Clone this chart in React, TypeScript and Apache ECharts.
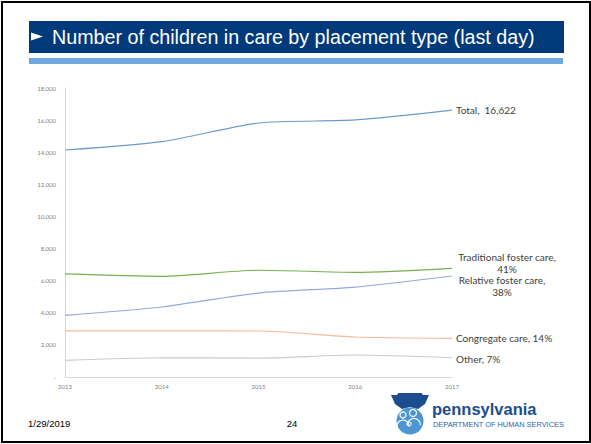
import React, { useEffect, useRef } from "react";
import * as echarts from "echarts";

const years = ["2013", "2014", "2015", "2016", "2017"];
const totalValues = [14140, 14660, 15820, 16010, 16622];
const traditionalValues = [6420, 6270, 6650, 6520, 6770];
const relativeValues = [3840, 4360, 5230, 5600, 6290];
const congregateValues = [2870, 2870, 2865, 2490, 2410];
const otherValues = [1040, 1200, 1180, 1370, 1200];
const seriesNames = ["Total", "Traditional foster care", "Relative foster care", "Congregate care", "Other"];
const endLabels = ["Total,  16,622", "Traditional foster care,\n41%", "Relative foster care,\n38%", "Congregate care, 14%", "Other, 7%"];
const yMax = 18000;
const yInterval = 2000;
const titleText = "Number of children in care by placement type (last day)";
const dateText = "1/29/2019";
const pageText = "24";

export default function App() {
  const ref = useRef<HTMLDivElement>(null);
  useEffect(() => {
    if (!ref.current) return;
    const chart = echarts.init(ref.current, undefined, { renderer: "svg" });
    const seriesData = [totalValues, traditionalValues, relativeValues, congregateValues, otherValues];
    const colors = ["#6E9ACB", "#78B052", "#96A9DB", "#F5B99A", "#CCCCCC"];
    const labelStyles: any[] = [
      { align: "left", offset: [0, 0] },
      { align: "center", offset: [51, -5.5] },
      { align: "center", offset: [46, 10] },
      { align: "left", offset: [0, 0] },
      { align: "left", offset: [0, 1] },
    ];
    const series = seriesData.map((vals, s) => ({
      name: seriesNames[s],
      type: "line",
      smooth: 0.25,
      symbol: "none",
      lineStyle: { color: colors[s], width: 1.2 },
      itemStyle: { color: colors[s] },
      endLabel: {
        show: true,
        distance: 4,
        formatter: endLabels[s],
        color: "#404040",
        fontFamily: "Lato",
        fontSize: 10,
        lineHeight: 11.5,
        ...labelStyles[s],
      },
      data: vals,
    }));

    const logoFigure = "#FFFFFF";
    chart.setOption({
      animation: false,
      backgroundColor: "#FFFFFF",
      grid: { left: 65, right: 139, top: 88, bottom: 67 },
      xAxis: {
        type: "category",
        data: years,
        boundaryGap: false,
        axisLine: { lineStyle: { color: "#D9D9D9", width: 1 } },
        axisTick: { show: false },
        axisLabel: { color: "#7F7F7F", fontSize: 6, fontFamily: "Lato", margin: 6 },
      },
      yAxis: {
        type: "value",
        min: 0,
        max: yMax,
        interval: yInterval,
        splitLine: { show: false },
        axisLine: { show: true, lineStyle: { color: "#D9D9D9", width: 1 } },
        axisTick: { show: false },
        axisLabel: {
          color: "#7F7F7F",
          fontSize: 6,
          fontFamily: "Lato",
          margin: 9,
          formatter: (v: number) => (v === 0 ? "-" : v.toLocaleString("en-US")),
        },
      },
      series,
      graphic: [
        { type: "rect", shape: { x: 2, y: 2, width: 588, height: 440 }, style: { fill: "none", stroke: "#000", lineWidth: 2 }, silent: true },
        { type: "rect", shape: { x: 29, y: 21, width: 535, height: 32 }, style: { fill: "#003A7A" } },
        { type: "rect", shape: { x: 29, y: 58, width: 534, height: 6 }, style: { fill: "#6FA8DC" } },
        { type: "polygon", shape: { points: [[31, 32.5], [43, 36.5], [31, 40.5]] }, style: { fill: "#FFFFFF" } },
        {
          type: "text",
          x: 52,
          y: 37,
          style: { text: titleText, fill: "#FFFFFF", fontSize: 19.7, fontFamily: "Liberation Sans", verticalAlign: "middle", align: "left" },
        },
        { type: "text", x: 28, y: 423, style: { text: dateText, fill: "#000", fontSize: 9.5, fontFamily: "Liberation Sans", verticalAlign: "middle" } },
        { type: "text", x: 292, y: 423, style: { text: pageText, fill: "#000", fontSize: 9.5, fontFamily: "Liberation Sans", verticalAlign: "middle", align: "center" } },
        // logo
        { type: "circle", shape: { cx: 410, cy: 421, r: 13.5 }, style: { fill: "#4E96D2" } },
        {
          type: "polygon",
          shape: { points: [[391, 395], [397, 395], [398.5, 393], [421.5, 393], [423, 395], [429, 395], [425, 404], [418, 409], [410, 407], [402, 409], [395, 404]] },
          style: { fill: "#1C4E8E" },
        },
        { type: "circle", shape: { cx: 403, cy: 415, r: 3 }, style: { fill: "none", stroke: logoFigure, lineWidth: 1.2 } },
        { type: "circle", shape: { cx: 413, cy: 413, r: 3.5 }, style: { fill: "none", stroke: logoFigure, lineWidth: 1.2 } },
        { type: "arc", shape: { cx: 403, cy: 426, r: 6, startAngle: Math.PI, endAngle: 2 * Math.PI }, style: { stroke: logoFigure, lineWidth: 1.2, fill: "none" } },
        { type: "arc", shape: { cx: 414, cy: 425, r: 6.5, startAngle: Math.PI, endAngle: 2 * Math.PI }, style: { stroke: logoFigure, lineWidth: 1.2, fill: "none" } },
        { type: "circle", shape: { cx: 409, cy: 424, r: 2.2 }, style: { fill: "none", stroke: logoFigure, lineWidth: 1 } },
        {
          type: "text",
          x: 432,
          y: 409,
          style: { text: "pennsylvania", fill: "#1C4E8E", fontSize: 16.5, fontWeight: "bold", fontFamily: "Liberation Sans", verticalAlign: "middle" },
        },
        {
          type: "text",
          x: 433,
          y: 424,
          style: { text: "DEPARTMENT OF HUMAN SERVICES", fill: "#2E64A8", fontSize: 7.4, fontFamily: "Liberation Sans", verticalAlign: "middle" },
        },
      ],
    });
    return () => chart.dispose();
  }, []);
  return <div ref={ref} style={{ position: "fixed", left: 0, top: 0, width: 591, height: 444 }} />;
}
